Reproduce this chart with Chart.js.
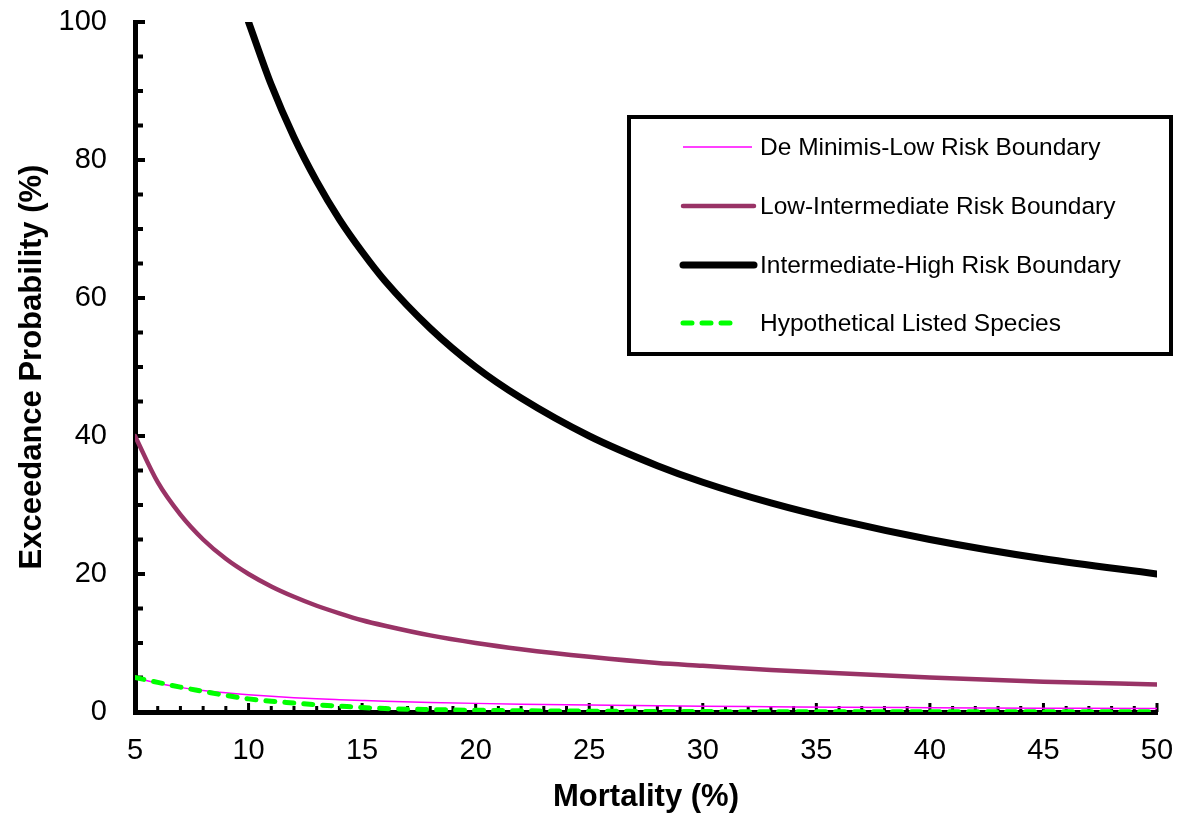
<!DOCTYPE html>
<html>
<head>
<meta charset="utf-8">
<script src="https://cdn.jsdelivr.net/npm/chart.js@4.4.1/dist/chart.umd.min.js"></script>
<style>
  html, body { margin: 0; padding: 0; background: #fff; }
  #wrap { width: 1177px; height: 813px; }
</style>
</head>
<body>
<div id="wrap"><canvas id="riskChart"></canvas></div>
<script>
// values
const mortality = [5, 6, 7, 8, 9, 10, 11, 12, 13, 14, 15, 16, 18, 20, 22, 25, 28, 30, 33, 36, 40, 45, 50];
const deMinimisLow = [5.0, 4.17, 3.57, 3.13, 2.78, 2.5, 2.27, 2.08, 1.92, 1.79, 1.67, 1.56, 1.39, 1.25, 1.14, 1.0, 0.89, 0.83, 0.76, 0.69, 0.63, 0.56, 0.5];
const lowIntermediate = [40, 33.3, 28.6, 25, 22.2, 20, 18.2, 16.7, 15.4, 14.3, 13.3, 12.5, 11.1, 10, 9.1, 8, 7.1, 6.7, 6.1, 5.6, 5, 4.4, 4];
const intermediateHigh = [null, null, null, null, null, 100, 90.9, 83.3, 76.9, 71.4, 66.7, 62.5, 55.6, 50, 45.5, 40, 35.7, 33.3, 30.3, 27.8, 25, 22.2, 20];
const listedSpecies = [5.0, 4.3, 3.6, 3.0, 2.4, 1.9, 1.55, 1.3, 1.05, 0.85, 0.65, 0.5, 0.35, 0.25, 0.18, 0.12, 0.08, 0.06, 0.04, 0.03, 0.02, 0.02, 0.02];

const seriesLabels = [
  'De Minimis-Low Risk Boundary',
  'Low-Intermediate Risk Boundary',
  'Intermediate-High Risk Boundary',
  'Hypothetical Listed Species'
];

const FONT = 'Arial, "Liberation Sans", sans-serif';

function toPoints(values) {
  return mortality.map((x, i) => ({ x: x, y: values[i] }));
}

// small inside tick marks (minor + major) like the original axes
const insideTicks = {
  id: 'insideTicks',
  beforeDatasetsDraw(chart) {
    const xs = chart.scales.x;
    const ys = chart.scales.y;
    const ctx = chart.ctx;
    ctx.save();
    ctx.fillStyle = '#000';
    for (let v = xs.min; v <= xs.max; v += 1) {
      const px = xs.getPixelForValue(v);
      const len = v % 5 === 0 ? 9 : 6;
      ctx.fillRect(px - 1.5, ys.bottom - len, 3, len);
    }
    for (let v = ys.min; v <= ys.max; v += 5) {
      const py = ys.getPixelForValue(v);
      const len = v % 20 === 0 ? 10 : 8;
      ctx.fillRect(xs.left, py - 2, len, 4);
    }
    ctx.restore();
  }
};

// boxed legend in the upper right
const boxLegend = {
  id: 'boxLegend',
  afterDraw(chart) {
    const ctx = chart.ctx;
    const box = { left: 629, top: 117, right: 1171, bottom: 354 };
    const rows = [147, 206, 265, 323];
    const sampleLen = [69, 71, 71, 52];
    ctx.save();
    ctx.fillStyle = '#fff';
    ctx.fillRect(box.left, box.top, box.right - box.left, box.bottom - box.top);
    ctx.lineWidth = 4;
    ctx.strokeStyle = '#000';
    ctx.strokeRect(box.left, box.top, box.right - box.left, box.bottom - box.top);

    chart.data.datasets.forEach((ds, i) => {
      const y = rows[i];
      ctx.beginPath();
      ctx.strokeStyle = ds.borderColor;
      ctx.lineWidth = ds.borderWidth;
      ctx.lineCap = ds.borderCapStyle || 'butt';
      ctx.setLineDash(ds.borderDash || []);
      ctx.moveTo(683, y);
      ctx.lineTo(683 + sampleLen[i], y);
      ctx.stroke();
      ctx.setLineDash([]);
      ctx.fillStyle = '#000';
      ctx.font = '24.5px ' + FONT;
      ctx.textBaseline = 'middle';
      ctx.textAlign = 'left';
      ctx.fillText(ds.label, 760, y + 1);
    });
    ctx.restore();
  }
};

new Chart(document.getElementById('riskChart').getContext('2d'), {
  type: 'line',
  data: {
    datasets: [{
      label: seriesLabels[0],
      data: toPoints(deMinimisLow),
      borderColor: '#FF00FF',
      borderWidth: 1.5,
      order: 2
    }, {
      label: seriesLabels[1],
      data: toPoints(lowIntermediate),
      borderColor: '#993366',
      borderWidth: 4.5,
      borderCapStyle: 'round',
      order: 3
    }, {
      label: seriesLabels[2],
      data: toPoints(intermediateHigh),
      borderColor: '#000000',
      borderWidth: 7,
      borderCapStyle: 'round',
      order: 4
    }, {
      label: seriesLabels[3],
      data: toPoints(listedSpecies),
      borderColor: '#00FF00',
      borderWidth: 5,
      borderDash: [9, 10],
      borderCapStyle: 'round',
      order: 1
    }]
  },
  options: {
    responsive: true,
    maintainAspectRatio: false,
    animation: false,
    layout: {
      padding: 0
    },
    elements: {
      point: { radius: 0, hoverRadius: 0 },
      line: { cubicInterpolationMode: 'monotone', fill: false }
    },
    plugins: {
      legend: { display: false },
      tooltip: { enabled: false }
    },
    scales: {
      x: {
        type: 'linear',
        min: 5,
        max: 50,
        grid: { display: false, drawTicks: false },
        border: { color: '#000', width: 5 },
        ticks: {
          stepSize: 5,
          color: '#000',
          padding: 22,
          font: { family: FONT, size: 29 }
        },
        title: {
          display: true,
          text: 'Mortality (%)',
          color: '#000',
          font: { family: FONT, size: 31, weight: 'bold', lineHeight: 1.0 },
          padding: { top: 0, bottom: 0 }
        },
        afterFit: function(scale) {
          scale.height = 101;
          scale.paddingLeft = 0;
          scale.paddingRight = 20;
        }
      },
      y: {
        min: 0,
        max: 100,
        grid: { display: false, drawTicks: false },
        border: { color: '#000', width: 5 },
        ticks: {
          stepSize: 20,
          color: '#000',
          padding: 28,
          font: { family: FONT, size: 29 }
        },
        title: {
          display: true,
          text: 'Exceedance Probability (%)',
          color: '#000',
          font: { family: FONT, size: 31, weight: 'bold' },
          padding: { top: 14, bottom: 0 }
        },
        afterFit: function(scale) {
          scale.width = 135;
          scale.paddingTop = 22;
          scale.paddingBottom = 0;
        }
      }
    }
  },
  plugins: [insideTicks, boxLegend]
});
</script>
</body>
</html>
